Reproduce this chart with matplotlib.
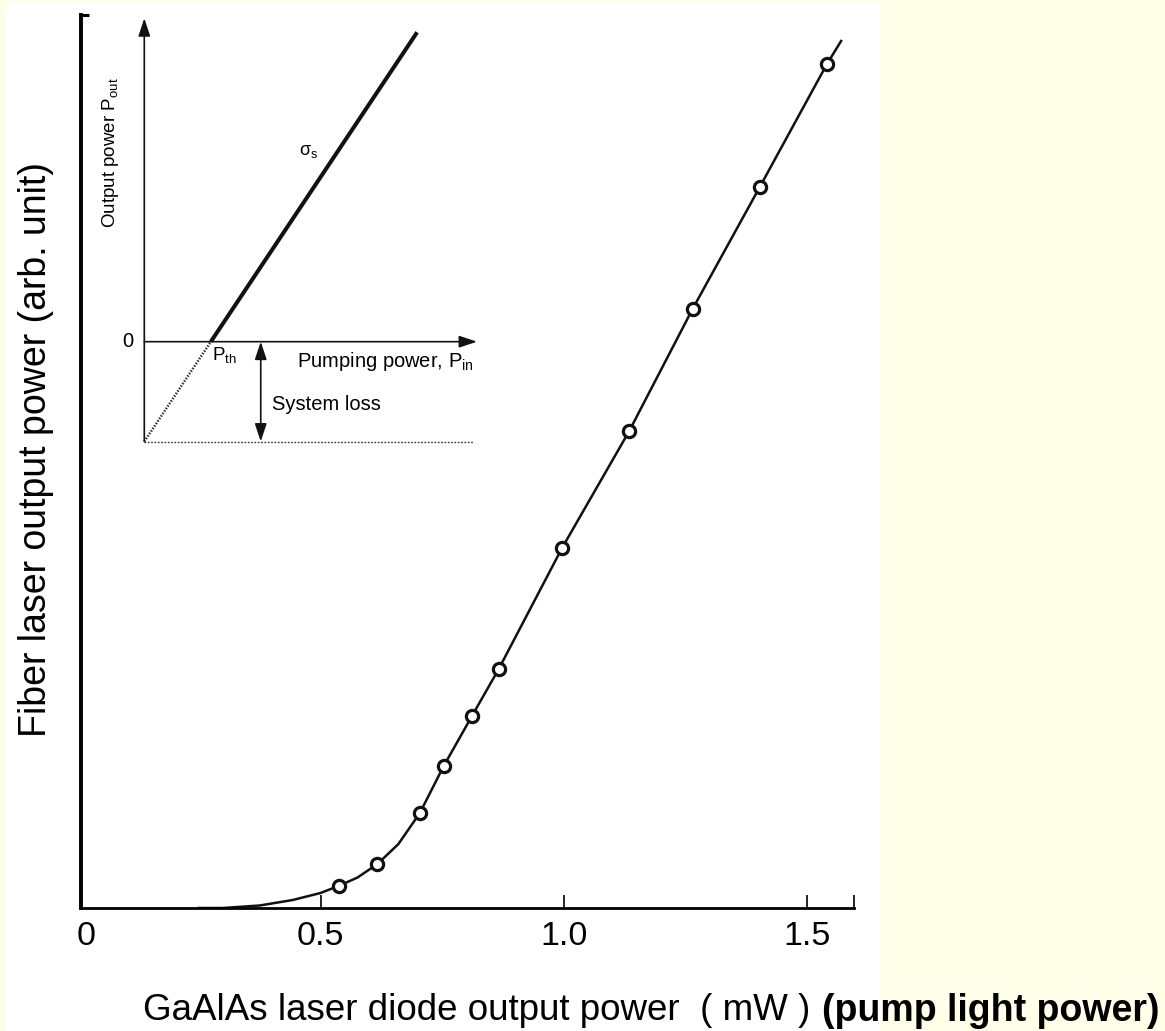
import matplotlib
matplotlib.use("Agg")
import matplotlib.pyplot as plt
from matplotlib.patches import Rectangle

plt.rcParams["font.family"] = ["Liberation Sans", "DejaVu Sans"]
plt.rcParams["mathtext.fontset"] = "custom"
plt.rcParams["mathtext.rm"] = "Liberation Sans"
plt.rcParams["mathtext.it"] = "Liberation Sans:italic"

# Measured points (GaAlAs pump power in mW, fiber laser output in arb. units)
pump_mw = [0.537, 0.617, 0.704, 0.753, 0.811, 0.866, 0.996, 1.134, 1.264, 1.402, 1.540]
fiber_out = [0.22, 0.44, 0.95, 1.42, 1.92, 2.39, 3.60, 4.77, 5.99, 7.21, 8.44]

# Hand drawn fit curve
curve_mw = [0.25, 0.299, 0.375, 0.443, 0.500, 0.537, 0.576, 0.617, 0.660, 0.704,
            0.753, 0.811, 0.866, 0.996, 1.134, 1.264, 1.402, 1.540, 1.569]
curve_out = [0.0, 0.0, 0.025, 0.08, 0.15, 0.22, 0.305, 0.44, 0.64, 0.95,
             1.42, 1.92, 2.39, 3.60, 4.77, 5.99, 7.21, 8.44, 8.67]

x_ticks = [0.5, 1.0, 1.5]
x_tick_labels = ["0.5", "1.0", "1.5"]
x_min, x_max = 0.0082, 1.5955
y_max = 8.93

# Inset: threshold schematic (arbitrary units)
inset_pth = 2.0
inset_loss = 3.0
inset_lase_x = [2.0, 8.2]
inset_lase_y = [0.0, 9.3]
inset_below_x = [0.0, 2.0]
inset_below_y = [-3.0, 0.0]
inset_base_x = [0.0, 9.9]
inset_base_y = [-3.0, -3.0]
inset_loss_at = 3.5
inset_xmax, inset_ymax = 10.0, 9.72

W, H = 1165, 1031
fig = plt.figure(figsize=(W / 100, H / 100), dpi=100, facecolor="#FFFEE8")
fig.add_artist(Rectangle((6 / W, 0), 875 / W, 1029 / H, transform=fig.transFigure,
                         facecolor="white", edgecolor="none", zorder=-1))

# Main axes
ax = fig.add_axes([81 / W, 123 / H, 773 / W, 893 / H])
ax.set_facecolor("none")
ax.plot(curve_mw, curve_out, color="#111111", lw=1.8, zorder=2)
ax.plot(pump_mw, fiber_out, "o", ms=8.8, mfc="white", mec="#111111", mew=2.3, zorder=3)
ax.set_xlim(x_min, x_max)
ax.set_ylim(0, y_max)
for s in ["top", "right"]:
    ax.spines[s].set_visible(False)
ax.spines["left"].set_linewidth(2.8)
ax.spines["bottom"].set_linewidth(2.0)
ax.set_xticks(x_ticks + [x_max], x_tick_labels + [""])
ax.tick_params(axis="x", direction="in", length=9.4, width=1.2, labelsize=24.5, pad=9.5)
ax.set_yticks([y_max], [""])
ax.tick_params(axis="y", direction="in", length=5.8, width=2.2)
ax.annotate("0", xy=(0, 0), xycoords=("data", "axes fraction"), xytext=(6.5, -9.5),
            textcoords="offset points", ha="center", va="top", fontsize=24.5,
            annotation_clip=False)

ax.set_ylabel("Fiber laser output power (arb. unit)", fontsize=27, va="center")
ax.yaxis.set_label_coords(-0.058, 0.513)

fig.text(143 / W, (H - 1011) / H, "GaAlAs laser diode output power  ( mW )",
         fontsize=26.5, ha="left", va="center")
fig.text(1160 / W, (H - 1011) / H, "(pump light power)", fontsize=27,
         fontweight="bold", ha="right", va="center")

# Inset axes
axi = fig.add_axes([144.3 / W, (H - 441.5) / H, 332.7 / W, 423.2 / H])
axi.set_xlim(0, inset_xmax)
axi.set_ylim(-inset_loss, inset_ymax)
axi.axis("off")

head = dict(arrowstyle="-|>,head_length=0.6,head_width=0.2", mutation_scale=18,
            lw=1.2, color="#111111", shrinkA=0, shrinkB=0)
axi.annotate("", xy=(0, inset_ymax), xytext=(0, -inset_loss), arrowprops=head,
             annotation_clip=False)
axi.annotate("", xy=(inset_xmax, 0), xytext=(0, 0), arrowprops=head,
             annotation_clip=False)
both = dict(head, arrowstyle="<|-|>,head_length=0.6,head_width=0.2")
axi.annotate("", xy=(inset_loss_at, -inset_loss), xytext=(inset_loss_at, 0),
             arrowprops=both, annotation_clip=False)

axi.plot(inset_lase_x, inset_lase_y, lw=2.9, color="#111111", solid_capstyle="butt",
         clip_on=False)
axi.plot(inset_below_x, inset_below_y, lw=1.8, ls=(0, (0.6, 0.6)), color="#333333",
         clip_on=False)
axi.plot(inset_base_x, inset_base_y, lw=1.0, ls=(0, (1.2, 1.2)), color="#333333",
         clip_on=False)

axi.text(-0.5, 0, "0", fontsize=14.5, ha="center", va="center")
axi.text(inset_pth + 0.03, -0.4, r"P$_\mathregular{th}$", fontsize=13.5, ha="left", va="center")
axi.text(4.58, -0.6, r"Pumping power, P$_\mathregular{in}$", fontsize=14.5,
         ha="left", va="center")
axi.text(3.83, -1.9, "System loss", fontsize=14.5, ha="left", va="center")
axi.text(-1.03, 5.69, r"Output power P$_\mathregular{out}$", fontsize=13.5,
         rotation=90, ha="center", va="center")
axi.text(4.95, 5.71, r"σ$_\mathregular{s}$", fontsize=13, ha="center", va="center")

fig.savefig("out.png", dpi=100, facecolor=fig.get_facecolor())
